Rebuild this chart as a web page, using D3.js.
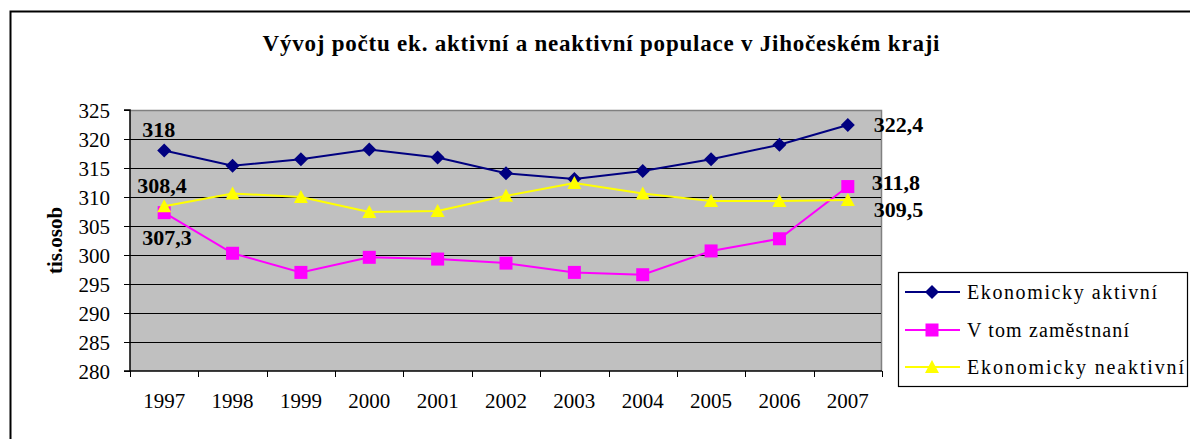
<!DOCTYPE html>
<html><head><meta charset="utf-8">
<script src="https://cdn.jsdelivr.net/npm/d3@7"></script>
</head>
<body style="margin:0;padding:0;background:#fff">
<svg id="c" width="1190" height="439" style="display:block"></svg>
<script>
const years = ["1997","1998","1999","2000","2001","2002","2003","2004","2005","2006","2007"];
const aktivni = [318.0,315.4,316.5,318.2,316.8,314.1,313.1,314.5,316.5,319.0,322.4];
const zamestnani = [307.3,300.3,297.0,299.6,299.3,298.6,297.0,296.6,300.7,302.8,311.8];
const neaktivni = [308.4,310.6,310.0,307.4,307.6,310.2,312.4,310.6,309.3,309.3,309.5];
const seriesNames = ["Ekonomicky aktivní","V tom zaměstnaní","Ekonomicky neaktivní"];
const yTicks = [280,285,290,295,300,305,310,315,320,325];
const titleText = "Vývoj počtu ek. aktivní a neaktivní populace v Jihočeském kraji";
const yTitle = "tis.osob";

const FONT = '"Liberation Serif"';
const svg = d3.select("#c");
const L = 130, R = 882, T = 110, B = 371;

function styleText(sel, size, bold){
  return sel.style("font-family",FONT).style("font-size",size+"px")
    .style("font-weight",bold?"bold":"normal").style("fill","#000");
}

// outer frame
svg.append("rect").attr("x",10.5).attr("y",11.5).attr("width",1200).attr("height",460)
  .attr("fill","#fff").attr("stroke","#000").attr("stroke-width",2);

styleText(svg.append("text").attr("x",601).attr("y",51).attr("text-anchor","middle")
  .attr("textLength",677).attr("lengthAdjust","spacing").text(titleText), 23, true);

const x = d3.scaleBand().domain(years).range([L,R]).padding(0);
const y = d3.scaleLinear().domain([280,325]).range([B,T]);

svg.append("rect").attr("x",L).attr("y",T).attr("width",R-L).attr("height",B-T).attr("fill","#C0C0C0");
svg.append("path").attr("d",`M${L},${T+0.5}H${R-0.5}V${B}`).attr("fill","none").attr("stroke","#808080").attr("stroke-width",1.5);

// gridlines
svg.append("g").selectAll("line").data(yTicks.filter(v=>v>280 && v<325)).join("line")
  .attr("x1",L).attr("x2",R-1).attr("y1",d=>Math.round(y(d))+0.5).attr("y2",d=>Math.round(y(d))+0.5)
  .attr("stroke","#000").attr("stroke-width",1);

// y axis
const yAxis = d3.axisLeft(y).tickValues(yTicks).tickSize(6).tickPadding(14);
const gy = svg.append("g").attr("transform",`translate(${L},0)`).call(yAxis);
gy.select(".domain").attr("stroke","#000").attr("stroke-width",1.5).attr("d",`M-6,${B}H0V${T}H-6`);
gy.selectAll(".tick line").attr("stroke","#000");
styleText(gy.selectAll("text"),21,false).attr("dy","0.35em");

// x axis
const xAxis = d3.axisBottom(x).tickSize(0).tickPadding(22);
const gx = svg.append("g").attr("transform",`translate(0,${B})`).call(xAxis);
gx.select(".domain").attr("stroke","#000").attr("stroke-width",1.5).attr("d",`M${L},0H${R}`);
styleText(gx.selectAll("text"),21,false);
svg.append("g").selectAll("line").data(years.concat(["end"])).join("line")
  .attr("x1",(d,i)=>Math.round(L+i*x.bandwidth())+0.5).attr("x2",(d,i)=>Math.round(L+i*x.bandwidth())+0.5)
  .attr("y1",B).attr("y2",B+6).attr("stroke","#000").attr("stroke-width",1);

styleText(svg.append("text").attr("transform",`translate(62,${(T+B)/2}) rotate(-90)`).attr("text-anchor","middle")
  .text(yTitle),21,true);

const cx = d => x(d)+x.bandwidth()/2;
const colors = ["#000080","#FF00FF","#FFFF00"];
const datas = [aktivni, zamestnani, neaktivni];

function marker(g, i, px, py){
  if(i===0){
    g.append("path").attr("d",`M${px},${py-7}L${px+7},${py}L${px},${py+7}L${px-7},${py}Z`).attr("fill",colors[i]);
  } else if(i===1){
    g.append("rect").attr("x",px-6.5).attr("y",py-6.5).attr("width",13).attr("height",13).attr("fill",colors[i]);
  } else {
    g.append("path").attr("d",`M${px},${py-7}L${px+7},${py+6}L${px-7},${py+6}Z`).attr("fill",colors[i]);
  }
}

datas.forEach((vals,i)=>{
  const line = d3.line().x((d,j)=>cx(years[j])).y(d=>y(d));
  svg.append("path").datum(vals).attr("d",line).attr("fill","none").attr("stroke",colors[i]).attr("stroke-width",2);
  const g = svg.append("g");
  vals.forEach((v,j)=>marker(g,i,cx(years[j]),y(v)));
});

// data labels
const fmt = v => d3.format(".1f")(v).replace(".",",").replace(/,0$/,"");
const labels = [
  {v:aktivni[0], x:cx(years[0])-22, y:y(aktivni[0])-14},
  {v:neaktivni[0], x:cx(years[0])-27, y:y(neaktivni[0])-13},
  {v:zamestnani[0], x:cx(years[0])-22, y:y(zamestnani[0])+32},
  {v:aktivni[10], x:cx(years[10])+26, y:y(aktivni[10])+7},
  {v:zamestnani[10], x:cx(years[10])+24, y:y(zamestnani[10])+3},
  {v:neaktivni[10], x:cx(years[10])+26, y:y(neaktivni[10])+17}
];
styleText(svg.append("g").selectAll("text").data(labels).join("text")
  .attr("x",d=>d.x).attr("y",d=>d.y).text(d=>fmt(d.v)),22,true);

// legend
const lg = svg.append("g");
lg.append("rect").attr("x",898.5).attr("y",272.5).attr("width",289).attr("height",114).attr("fill","#fff").attr("stroke","#000").attr("stroke-width",1.2);
const legY = [292,330,367];
const legW = [190,162,217];
seriesNames.forEach((n,i)=>{
  lg.append("line").attr("x1",905).attr("x2",960).attr("y1",legY[i]).attr("y2",legY[i]).attr("stroke",colors[i]).attr("stroke-width",2);
  marker(lg,i,932,legY[i]);
  styleText(lg.append("text").attr("x",967).attr("y",legY[i]+7).attr("textLength",legW[i]).attr("lengthAdjust","spacing").text(n),20,false);
});
</script>
</body></html>
